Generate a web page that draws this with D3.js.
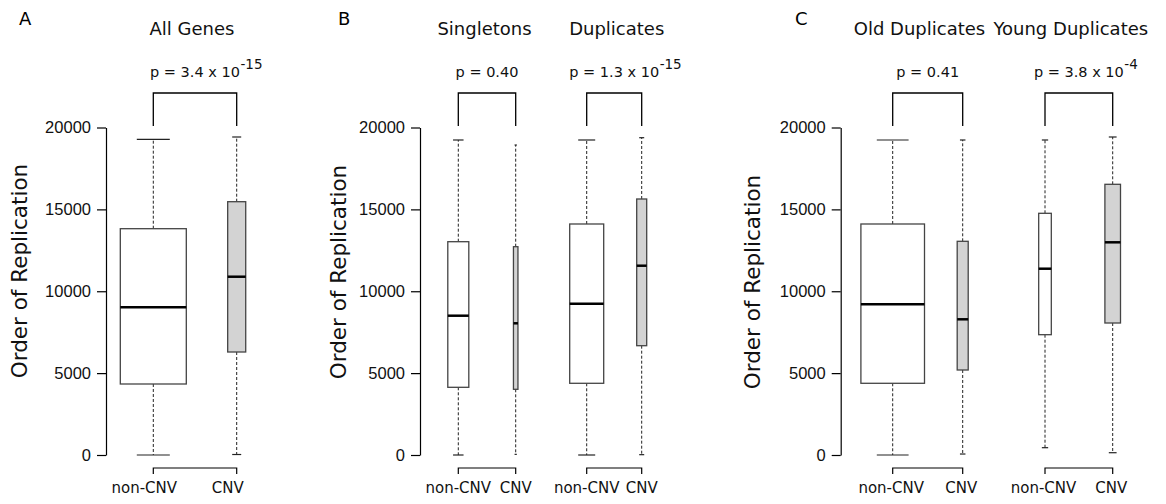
<!DOCTYPE html>
<html>
<head>
<meta charset="utf-8">
<script src="https://cdn.jsdelivr.net/npm/d3@7"></script>
<style>
  html, body { margin: 0; padding: 0; background: #fff; }
  svg { display: block; }
</style>
</head>
<body>
<div id="chart"></div>
<script>
// ---------------- DATA ----------------
const panels = ["A", "B", "C"];
const groupTitles = ["All Genes", "Singletons", "Duplicates", "Old Duplicates", "Young Duplicates"];
const groupPanel = ["A", "B", "B", "C", "C"];
const pMantissa = ["3.4", "0.40", "1.3", "0.41", "3.8"];
const pExponent = ["-15", "", "-15", "", "-4"];
const categories = ["non-CNV", "CNV"];

// one entry per box: group index and category
const boxGroup = [0, 0, 1, 1, 2, 2, 3, 3, 4, 4];
const boxCategory = ["non-CNV", "CNV", "non-CNV", "CNV", "non-CNV", "CNV", "non-CNV", "CNV", "non-CNV", "CNV"];
const whiskerLow  = [0, 30, 0, 40, 0, 20, 0, 60, 446, 140];
const q1          = [4336, 6290, 4134, 4012, 4379, 6675, 4379, 5191, 7347, 8061];
const median      = [9020, 10888, 8507, 8043, 9240, 11560, 9203, 8287, 11377, 12989];
const q3          = [13820, 15469, 13026, 12721, 14107, 15634, 14107, 13050, 14760, 16531];
const whiskerHigh = [19280, 19420, 19237, 18931, 19237, 19377, 19237, 19237, 19237, 19420];
// group sizes (box width ~ sqrt(n), as in varwidth boxplots)
const groupSize   = [17950, 1340, 3054, 140, 8000, 692, 6000, 180, 236, 361];

const yTicks = [0, 5000, 10000, 15000, 20000];
const yLabel = "Order of Replication";

// ---------------- LAYOUT ----------------
const W = 1166, H = 504;
const panelLayout = {
  A: { axisX: 106,   letterX: 19,  ylabelX: 27,  ylabelY: 271, maxBoxW: 66,   labelDx: -9 },
  B: { axisX: 420,   letterX: 338, ylabelX: 346, ylabelY: 272, maxBoxW: 34,   labelDx: 0 },
  C: { axisX: 840.7, letterX: 795, ylabelX: 760, ylabelY: 282, maxBoxW: 63.6, labelDx: -1.5 }
};
const boxKeys = boxGroup.map((g, i) => groupTitles[g] + "|" + boxCategory[i]);
const boxCenterPx = [153.3, 236.7, 458.3, 515.7, 586.7, 641.7, 892.7, 962.7, 1045, 1112.7];
const titleCenterPx = [192, 484.5, 616.7, 919.5, 1070.8];

const x = d3.scaleOrdinal().domain(boxKeys).range(boxCenterPx);
const y = d3.scaleLinear().domain([0, 20000]).range([455, 127.5]);

const fills = d3.scaleOrdinal().domain(categories).range(["#ffffff", "#d3d3d3"]);

// width scales per panel
const widthScales = {};
panels.forEach(p => {
  const idx = boxGroup.map((g, i) => i).filter(i => groupPanel[boxGroup[i]] === p);
  const nMax = d3.max(idx, i => groupSize[i]);
  widthScales[p] = d3.scaleSqrt().domain([0, nMax]).range([0, panelLayout[p].maxBoxW]);
});

const svg = d3.select("#chart").append("svg")
  .attr("width", W).attr("height", H)
  .attr("viewBox", `0 0 ${W} ${H}`);
svg.append("rect").attr("width", W).attr("height", H).attr("fill", "#fff");

const SANS = "'DejaVu Sans', sans-serif";
const TICKFONT = "'Liberation Sans', Arial, sans-serif";

// ---------------- PANELS ----------------
panels.forEach(p => {
  const L = panelLayout[p];
  svg.append("text").attr("x", L.letterX).attr("y", 25)
    .attr("font-family", SANS).attr("font-size", 18).attr("fill", "#000").text(p);

  const ax = svg.append("g").attr("transform", `translate(${L.axisX},0)`)
    .call(d3.axisLeft(y).tickValues(yTicks).tickSize(9).tickPadding(6).tickSizeOuter(0).tickFormat(d3.format("d")));
  ax.select(".domain").attr("stroke", "#000").attr("stroke-width", 1.2);
  ax.selectAll(".tick line").attr("stroke", "#000").attr("stroke-width", 1.2);
  ax.selectAll(".tick text").attr("font-family", TICKFONT).attr("font-size", 16.5).attr("fill", "#111");

  svg.append("text")
    .attr("transform", `translate(${L.ylabelX},${L.ylabelY}) rotate(-90)`)
    .attr("text-anchor", "middle")
    .attr("font-family", SANS).attr("font-size", 21.5).attr("fill", "#111")
    .text(yLabel);
});

// ---------------- GROUP TITLES, BRACKETS, P-VALUES, X-AXES ----------------
groupTitles.forEach((t, g) => {
  const idx = boxGroup.map((gg, i) => i).filter(i => boxGroup[i] === g);
  const xa = x(boxKeys[idx[0]]), xb = x(boxKeys[idx[1]]);
  const L = panelLayout[groupPanel[g]];
  const cx = (xa + xb) / 2;

  svg.append("text").attr("x", titleCenterPx[g]).attr("y", 35)
    .attr("text-anchor", "middle")
    .attr("font-family", SANS).attr("font-size", 18).attr("fill", "#111").text(t);

  svg.append("path")
    .attr("d", `M${xa},${126}V${93}H${xb}V${126}`)
    .attr("fill", "none").attr("stroke", "#000").attr("stroke-width", 1.3);

  // p-value: main part centred on the bracket, exponent appended
  const main = pExponent[g] ? `p = ${pMantissa[g]} x 10` : `p = ${pMantissa[g]}`;
  const mt = svg.append("text").attr("x", cx).attr("y", 77)
    .attr("text-anchor", "middle")
    .attr("font-family", SANS).attr("font-size", 14.5).attr("fill", "#111")
    .text(main);
  if (pExponent[g]) {
    const bb = mt.node().getBBox();
    svg.append("text").attr("x", bb.x + bb.width + 0.5).attr("y", 69)
      .attr("font-family", SANS).attr("font-size", 13.5).attr("fill", "#111")
      .text(pExponent[g]);
  }

  const xg = svg.append("g");
  xg.append("path")
    .attr("d", `M${xa},${474}V${468}H${xb}V${474}`)
    .attr("fill", "none").attr("stroke", "#000").attr("stroke-width", 1.2);
  idx.forEach(i => {
    xg.append("text")
      .attr("x", x(boxKeys[i]) + L.labelDx).attr("y", 493)
      .attr("text-anchor", "middle")
      .attr("font-family", SANS).attr("font-size", 15).attr("fill", "#111")
      .text(boxCategory[i]);
  });
});

// ---------------- BOXES ----------------
const boxes = svg.append("g").selectAll("g.box")
  .data(boxKeys.map((k, i) => i))
  .join("g").attr("class", "box");

boxes.each(function(i) {
  const g = d3.select(this);
  const p = groupPanel[boxGroup[i]];
  const w = widthScales[p](groupSize[i]);
  const cx = x(boxKeys[i]);
  const cap = w / 2;
  g.append("line").attr("x1", cx).attr("x2", cx).attr("y1", y(q3[i])).attr("y2", y(whiskerHigh[i]))
    .attr("stroke", "#222").attr("stroke-width", 1).attr("stroke-dasharray", "3,2");
  g.append("line").attr("x1", cx).attr("x2", cx).attr("y1", y(q1[i])).attr("y2", y(whiskerLow[i]))
    .attr("stroke", "#222").attr("stroke-width", 1).attr("stroke-dasharray", "3,2");
  [whiskerHigh[i], whiskerLow[i]].forEach(v => {
    g.append("line").attr("x1", cx - cap / 2).attr("x2", cx + cap / 2)
      .attr("y1", y(v)).attr("y2", y(v))
      .attr("stroke", "#222").attr("stroke-width", 1.2);
  });
  g.append("rect")
    .attr("x", cx - w / 2).attr("width", w)
    .attr("y", y(q3[i])).attr("height", y(q1[i]) - y(q3[i]))
    .attr("fill", fills(boxCategory[i]))
    .attr("stroke", "#444").attr("stroke-width", 1.3);
  g.append("line").attr("x1", cx - w / 2).attr("x2", cx + w / 2)
    .attr("y1", y(median[i])).attr("y2", y(median[i]))
    .attr("stroke", "#000").attr("stroke-width", 2.5);
});
</script>
</body>
</html>
